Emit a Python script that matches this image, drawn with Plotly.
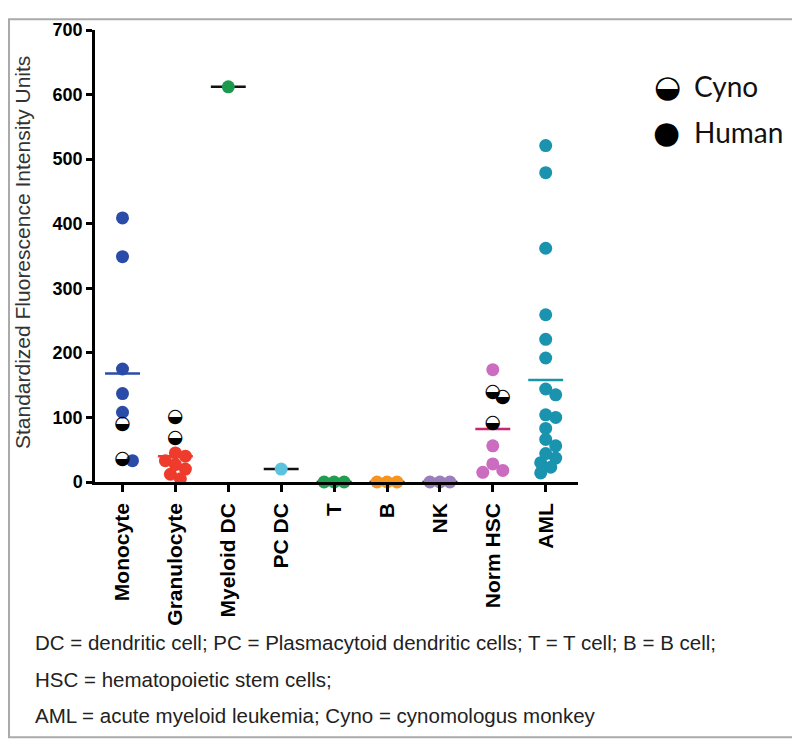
import plotly.graph_objects as go

# ---- data ----
categories = ["Monocyte", "Granulocyte", "Myeloid DC", "PC DC", "T", "B", "NK", "Norm HSC", "AML"]

human_values = [
    [409, 349, 175, 137, 108, 33],
    [45, 40, 33, 27, 20, 12, 5],
    [612],
    [20],
    [0, 0, 0],
    [0, 0, 0],
    [0, 0, 0],
    [174, 56, 28, 18, 15],
    [521, 479, 362, 259, 221, 192, 144, 135, 104, 100, 83, 66, 56, 44, 37, 30, 23, 14],
]
cyno_values = [
    [90, 35],
    [100, 67],
    [], [], [], [], [],
    [139, 132, 91],
    [],
]
group_means = [168, 40, 612, 20, 0, 0, 0, 82, 158]

y_ticks = [0, 100, 200, 300, 400, 500, 600, 700]

footnotes = [
    "DC = dendritic cell; PC = Plasmacytoid dendritic cells; T = T cell; B = B cell;",
    "HSC = hematopoietic stem cells;",
    "AML = acute myeloid leukemia; Cyno = cynomologus monkey",
]

# ---- styling ----
group_colors = ["#2B4BA8", "#EE3B2B", "#1B9A4E", "#5BC3DD", "#1E9E4F",
                "#F7941D", "#9A7EBD", "#CB6CC0", "#1A93AF"]
mean_colors = ["#2B4BA8", "#EE3B2B", "#111111", "#111111", "#111111",
               "#111111", "#111111", "#C8266E", "#1A93AF"]

# page body has an 8px margin, so the figure is shrunk and shifted by that
OFF = 8
W, H = 800 - OFF, 744 - OFF
PLOT_L, PLOT_R, PLOT_T, PLOT_B = 95, 578, 20, 482   # plot area in reference pixels
L, T = PLOT_L - OFF, PLOT_T - OFF
R, B = W - (PLOT_R - OFF), H - (PLOT_B - OFF)
PW, PH = PLOT_R - PLOT_L, PLOT_B - PLOT_T
X_STEP = 52.9                      # px per category
X_MIN = -(122.5 - PLOT_L) / X_STEP
X_MAX = X_MIN + PW / X_STEP
Y_MAX = 700
Y_PX = PH / Y_MAX                  # px per unit
MARK = 13
MIN_DIST = 10.0                    # px, allowed overlap in the swarm


def swarm(values):
    """simple beeswarm: returns x offsets (category units) for values"""
    placed = []
    offs = [0.0] * len(values)
    order = sorted(range(len(values)), key=lambda i: -values[i])
    step = MIN_DIST / 2
    cands = [0.0]
    for k in range(1, 20):
        cands += [k * step, -k * step]
    for i in order:
        yp = values[i] * Y_PX
        for c in cands:
            if all((c - px) ** 2 + (yp - py) ** 2 >= MIN_DIST ** 2 for px, py in placed):
                break
        placed.append((c, yp))
        offs[i] = c / X_STEP
    return offs


def px_x(px):
    return (px - PLOT_L) / PW


def px_y(py):
    return (PLOT_B - py) / PH


def note(text, x, y, size, family="Liberation Sans, Arial", color="#111111",
         xanchor="center", angle=0):
    return dict(text=text, x=px_x(x), y=px_y(y), xref="paper", yref="paper",
                showarrow=False, xanchor=xanchor, yanchor="middle", textangle=angle,
                font=dict(family=family, size=size, color=color))


fig = go.Figure()

# mean lines first (behind markers)
for i, m in enumerate(group_means):
    fig.add_trace(go.Scatter(
        x=[i - 0.33, i + 0.33], y=[m, m], mode="lines",
        line=dict(color=mean_colors[i], width=2.5),
        hoverinfo="skip", showlegend=False, cliponaxis=False,
    ))

for i, cat in enumerate(categories):
    vals = human_values[i] + cyno_values[i]
    offs = swarm(vals)
    nh = len(human_values[i])
    fig.add_trace(go.Scatter(
        x=[i + o for o in offs[:nh]], y=human_values[i], mode="markers",
        marker=dict(size=MARK, color=group_colors[i], line=dict(width=0)),
        name=cat, showlegend=False, cliponaxis=False,
    ))
    if cyno_values[i]:
        fig.add_trace(go.Scatter(
            x=[i + o for o in offs[nh:]], y=cyno_values[i], mode="text",
            text=["\u25d2"] * len(cyno_values[i]), textposition="middle center",
            textfont=dict(family="DejaVu Sans", size=19, color="black"),
            name=cat + " (Cyno)", showlegend=False, cliponaxis=False,
        ))

annotations = [
    note("Standardized Fluorescence Intensity Units", 22, 248, 21, color="#333333", angle=-90),
    note("\u25d2", 667, 77, 31, family="DejaVu Sans", color="black"),
    note("\u25cf", 666, 124, 31, family="DejaVu Sans", color="black"),
    note("Cyno", 692, 77, 28, family="Lato", xanchor="left"),
    note("Human", 692, 124, 28, family="Lato", xanchor="left"),
]
for txt, py in zip(footnotes, [646, 684, 721]):
    annotations.append(note(txt, 33, py, 20.5, color="#222222", xanchor="left"))

fig.update_layout(
    width=W, height=H,
    margin=dict(l=L, r=R, t=T, b=B, pad=0),
    paper_bgcolor="white", plot_bgcolor="white",
    showlegend=False,
    annotations=annotations,
    shapes=[dict(type="rect", xref="paper", yref="paper",
                 x0=px_x(OFF + 1), x1=px_x(799), y0=px_y(OFF + 1), y1=px_y(743),
                 line=dict(color="#AAAAAA", width=2))],
    xaxis=dict(
        range=[X_MIN, X_MAX], tickmode="array",
        tickvals=list(range(len(categories))), ticktext=categories,
        tickangle=-90, ticks="outside", ticklen=7, tickwidth=2.5, tickcolor="black",
        ticklabelstandoff=3,
        showline=True, linecolor="black", linewidth=2.5,
        showgrid=False, zeroline=False,
        tickfont=dict(family="Liberation Sans, Arial", size=21, color="black", weight="bold"),
    ),
    yaxis=dict(
        range=[0, Y_MAX], tickmode="array", tickvals=y_ticks,
        ticks="outside", ticklen=6, tickwidth=2.5, tickcolor="black",
        showline=True, linecolor="black", linewidth=2.5,
        showgrid=False, zeroline=False,
        tickfont=dict(family="Liberation Sans, Arial", size=18, color="black", weight="bold"),
    ),
)

fig.write_html("out.html")
